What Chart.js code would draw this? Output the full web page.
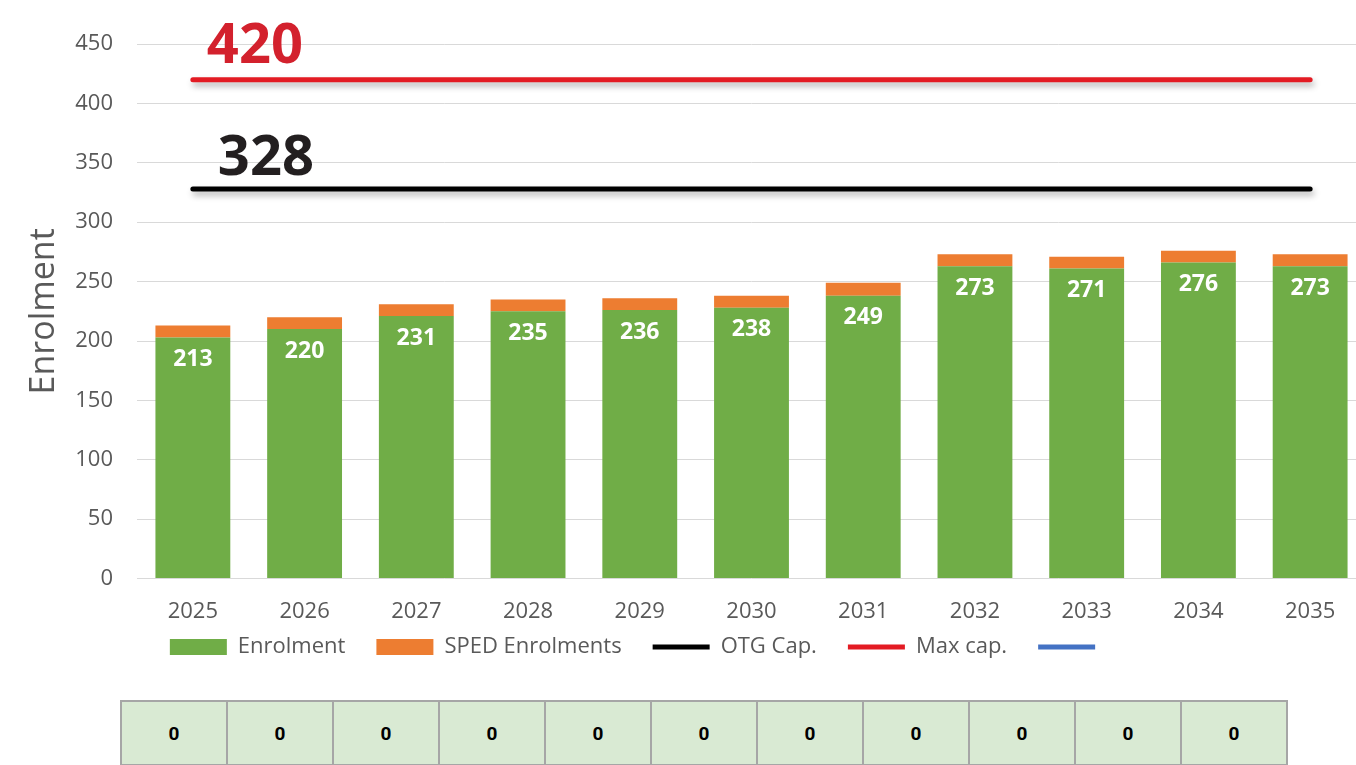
<!DOCTYPE html>
<html>
<head>
<meta charset="utf-8">
<script src="https://cdn.jsdelivr.net/npm/chart.js@4.4.1/dist/chart.umd.min.js"></script>
<style>
    html, body { margin: 0; padding: 0; background: #fff; overflow: hidden; }
    #wrap { position: absolute; left: 0; top: 0; width: 1366px; height: 700px; }
    #capTable {
        position: absolute; left: 120px; top: 700px;
        border-collapse: collapse;
        font-family: Roboto, sans-serif; font-weight: 700; font-size: 19px; color: #000;
    }
    #capTable td {
        width: 104px; height: 62px; padding: 0;
        background: #d9ead3; border: 2px solid #a6a6a6;
        text-align: center; vertical-align: middle;
    }
</style>
</head>
<body>
<div id="wrap"><canvas id="enrolChart"></canvas></div>
<table id="capTable"><tr id="capRow"></tr></table>

<script>
// данные графика
const years = ['2025', '2026', '2027', '2028', '2029', '2030', '2031', '2032', '2033', '2034', '2035'];
const enrolment = [203, 210, 221, 225, 226, 228, 238, 263, 261, 266, 263];
const spedEnrolments = [10, 10, 10, 10, 10, 10, 11, 10, 10, 10, 10];
const totalLabels = [213, 220, 231, 235, 236, 238, 249, 273, 271, 276, 273];
const otgCap = [328, 328, 328, 328, 328, 328, 328, 328, 328, 328, 328];
const maxCap = [420, 420, 420, 420, 420, 420, 420, 420, 420, 420, 420];
const blankSeries = [null, null, null, null, null, null, null, null, null, null, null];
const yTicks = [0, 50, 100, 150, 200, 250, 300, 350, 400, 450];
const tableValues = [0, 0, 0, 0, 0, 0, 0, 0, 0, 0, 0];

// таблица под графиком
const row = document.getElementById('capRow');
tableValues.forEach(v => {
    const td = document.createElement('td');
    td.textContent = v;
    row.appendChild(td);
});

Chart.defaults.font.family = "'Open Sans', sans-serif";
Chart.defaults.color = '#595959';

// подписи итогов внутри зелёных столбцов
const barLabels = {
    id: 'barLabels',
    afterDatasetsDraw(chart) {
        const ctx = chart.ctx;
        const meta = chart.getDatasetMeta(0);
        ctx.save();
        ctx.fillStyle = '#ffffff';
        ctx.font = "700 23px 'Open Sans', sans-serif";
        ctx.textAlign = 'center';
        ctx.textBaseline = 'middle';
        meta.data.forEach((bar, i) => {
            ctx.fillText(String(totalLabels[i]), bar.x, bar.y + 22);
        });
        ctx.restore();
    }
};

// большие цифры над линиями вместимости
const capLabels = {
    id: 'capLabels',
    afterDatasetsDraw(chart) {
        const ctx = chart.ctx;
        ctx.save();
        ctx.font = "700 56px 'Open Sans', sans-serif";
        ctx.textAlign = 'left';
        ctx.textBaseline = 'alphabetic';
        const otg = chart.getDatasetMeta(2).data[0];
        const mx = chart.getDatasetMeta(3).data[0];
        ctx.fillStyle = '#231f20';
        ctx.fillText(String(otgCap[0]), otg.x + 25, otg.y - 14);
        ctx.fillStyle = '#d3212d';
        ctx.fillText(String(maxCap[0]), mx.x + 14, mx.y - 17);
        ctx.restore();
    }
};

// тень под линиями
const lineShadow = {
    id: 'lineShadow',
    beforeDatasetDraw(chart, args) {
        if (args.meta.type !== 'line') return;
        const ctx = chart.ctx;
        ctx.save();
        ctx.shadowColor = 'rgba(0, 0, 0, 0.3)';
        ctx.shadowBlur = 6;
        ctx.shadowOffsetX = 2;
        ctx.shadowOffsetY = 4;
    },
    afterDatasetDraw(chart, args) {
        if (args.meta.type !== 'line') return;
        chart.ctx.restore();
    }
};

// сдвиг легенды
const legendShift = {
    id: 'legendShift',
    afterLayout(chart) {
        const lg = chart.legend;
        const dx = 638 - (lg.left + lg.right) / 2;
        lg.left += dx;
        lg.right += dx;
        lg.top -= 32;
        lg.bottom -= 32;
    }
};

const ctx = document.getElementById('enrolChart').getContext('2d');
const enrolChart = new Chart(ctx, {
    data: {
        labels: years,
        datasets: [
            {
                type: 'bar',
                label: 'Enrolment',
                data: enrolment,
                backgroundColor: '#70ad47',
                pointStyle: 'rect',
                stack: 's',
                order: 2
            },
            {
                type: 'bar',
                label: 'SPED Enrolments',
                data: spedEnrolments,
                backgroundColor: '#ed7d31',
                pointStyle: 'rect',
                stack: 's',
                order: 2
            },
            {
                type: 'line',
                label: 'OTG Cap.',
                data: otgCap,
                borderColor: '#000000',
                backgroundColor: '#000000',
                borderWidth: 5,
                borderCapStyle: 'round',
                pointRadius: 0,
                pointStyle: 'line',
                stack: 'otg',
                order: 1
            },
            {
                type: 'line',
                label: 'Max cap.',
                data: maxCap,
                borderColor: '#e31b23',
                backgroundColor: '#e31b23',
                borderWidth: 5,
                borderCapStyle: 'round',
                pointRadius: 0,
                pointStyle: 'line',
                stack: 'max',
                order: 1
            },
            {
                type: 'line',
                label: '',
                data: blankSeries,
                borderColor: '#4472c4',
                backgroundColor: '#4472c4',
                borderWidth: 5,
                borderCapStyle: 'round',
                pointRadius: 0,
                pointStyle: 'line',
                stack: 'blank',
                order: 1
            }
        ]
    },
    options: {
        responsive: true,
        maintainAspectRatio: false,
        animation: false,
        layout: { padding: { top: 44, left: 24, right: 0, bottom: 0 } },
        datasets: {
            bar: { categoryPercentage: 1, barPercentage: 0.67 }
        },
        scales: {
            x: {
                stacked: true,
                grid: { display: false },
                border: { display: false },
                ticks: { font: { size: 22 }, padding: 12, color: '#595959' }
            },
            y: {
                stacked: true,
                min: 0,
                max: 450,
                afterBuildTicks: (axis) => { axis.ticks = yTicks.map(v => ({ value: v })); },
                afterFit: (axis) => { axis.width = 113; },
                grid: { color: '#d9d9d9', lineWidth: 1, drawTicks: false },
                border: { display: false },
                ticks: { font: { size: 22 }, padding: 24, color: '#595959' },
                title: {
                    display: true,
                    text: 'Enrolment',
                    font: { size: 34 },
                    color: '#595959',
                    padding: { top: 0, bottom: 0 }
                }
            }
        },
        plugins: {
            legend: {
                position: 'bottom',
                labels: {
                    usePointStyle: true,
                    pointStyleWidth: 57,
                    boxHeight: 16,
                    padding: 31,
                    font: { size: 22 },
                    color: '#595959',
                    sort: (a, b) => a.datasetIndex - b.datasetIndex
                }
            },
            tooltip: { enabled: false }
        }
    },
    plugins: [barLabels, capLabels, lineShadow, legendShift]
});
</script>
</body>
</html>
